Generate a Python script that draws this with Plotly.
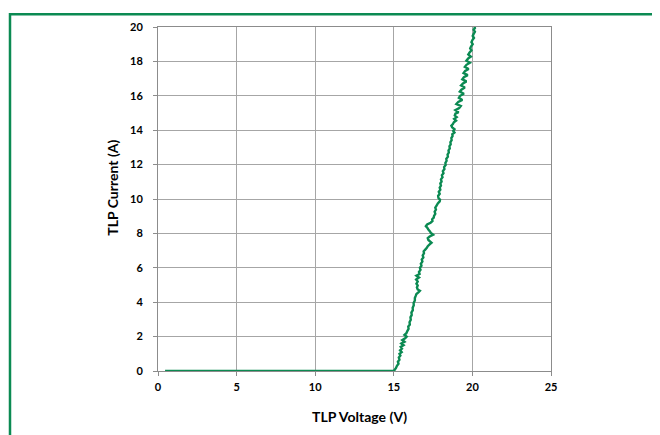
import plotly.graph_objects as go

# TLP I-V curve (voltage in V, current in A)
# off-state (flat) part
volt_off = [0.45, 5.00, 10.00, 14.90, 15.00]
curr_off = [0.00, 0.00, 0.00, 0.00, 0.02]

# 0 - 5 A
curr_a = [0.05, 0.18, 0.30, 0.42, 0.54, 0.66, 0.78, 0.90, 1.00, 1.10,
          1.20, 1.30, 1.40, 1.50, 1.60, 1.70, 1.80, 1.90, 2.00, 2.10,
          2.20, 2.32, 2.45, 2.58, 2.70, 2.84, 2.98, 3.12, 3.26, 3.40,
          3.54, 3.68, 3.82, 3.96, 4.10, 4.24, 4.38, 4.48, 4.58, 4.66,
          4.74, 4.85, 4.97]
volt_a = [15.04, 15.14, 15.20, 15.30, 15.26, 15.36, 15.32, 15.42, 15.36, 15.50,
          15.40, 15.52, 15.44, 15.62, 15.48, 15.68, 15.54, 15.72, 15.82, 15.68,
          15.80, 15.86, 15.94, 15.92, 16.02, 16.00, 16.08, 16.06, 16.14, 16.12,
          16.21, 16.20, 16.27, 16.26, 16.34, 16.34, 16.40, 16.44, 16.58, 16.66,
          16.52, 16.47, 16.52]

# 5 - 10 A
curr_b = [5.08, 5.20, 5.32, 5.44, 5.54, 5.64, 5.76, 5.88, 6.00, 6.12,
          6.24, 6.36, 6.48, 6.60, 6.72, 6.84, 6.96, 7.06, 7.16, 7.26,
          7.36, 7.46, 7.54, 7.62, 7.72, 7.82, 7.92, 8.02, 8.12, 8.22,
          8.32, 8.42, 8.52, 8.62, 8.72, 8.82, 8.92, 9.02, 9.14, 9.26,
          9.38, 9.50, 9.62, 9.74, 9.86, 9.96, 10.06]
volt_b = [16.44, 16.52, 16.42, 16.60, 16.44, 16.64, 16.60, 16.70, 16.66, 16.76,
          16.72, 16.82, 16.78, 16.88, 16.84, 16.92, 16.90, 17.00, 17.10, 17.16,
          17.28, 17.40, 17.30, 17.20, 17.16, 17.28, 17.50, 17.36, 17.30, 17.20,
          17.14, 17.04, 17.12, 17.34, 17.46, 17.44, 17.54, 17.56, 17.64, 17.60,
          17.68, 17.64, 17.72, 17.80, 17.92, 17.94, 17.84]

# 10 - 15 A
curr_c = [10.18, 10.30, 10.42, 10.54, 10.66, 10.78, 10.90, 11.02, 11.14, 11.26,
          11.38, 11.50, 11.62, 11.74, 11.86, 11.98, 12.10, 12.22, 12.34, 12.46,
          12.58, 12.70, 12.82, 12.94, 13.06, 13.18, 13.30, 13.42, 13.54, 13.66,
          13.76, 13.86, 13.96, 14.06, 14.16, 14.26, 14.36, 14.46, 14.56, 14.66,
          14.76, 14.86, 14.96]
volt_c = [17.82, 17.92, 17.86, 17.96, 17.92, 18.00, 17.96, 18.04, 18.00, 18.10,
          18.06, 18.16, 18.12, 18.22, 18.20, 18.30, 18.28, 18.36, 18.34, 18.44,
          18.42, 18.50, 18.48, 18.56, 18.54, 18.62, 18.60, 18.68, 18.66, 18.74,
          18.72, 18.86, 18.78, 18.86, 18.72, 18.66, 18.76, 18.82, 18.96, 18.84,
          19.00, 18.88, 18.92]

# 15 - 20 A
curr_d = [15.05, 15.17, 15.29, 15.41, 15.52, 15.64, 15.76, 15.88, 16.00, 16.12,
          16.24, 16.36, 16.48, 16.60, 16.72, 16.84, 16.96, 17.08, 17.20, 17.32,
          17.44, 17.56, 17.68, 17.80, 17.92, 18.04, 18.16, 18.28, 18.40, 18.52,
          18.64, 18.76, 18.88, 19.00, 19.12, 19.24, 19.36, 19.48, 19.60, 19.72,
          19.84, 19.94, 20.05]
volt_d = [19.12, 18.92, 19.16, 19.26, 18.98, 19.10, 19.36, 19.14, 19.22, 19.46,
          19.20, 19.30, 19.52, 19.28, 19.40, 19.62, 19.36, 19.46, 19.70, 19.44,
          19.54, 19.76, 19.52, 19.62, 19.84, 19.62, 19.72, 19.90, 19.74, 19.82,
          19.94, 19.86, 19.92, 20.02, 19.94, 20.00, 20.10, 20.02, 20.08, 20.16,
          20.08, 20.16, 20.12]

voltage = volt_off + volt_a + volt_b + volt_c + volt_d
current = curr_off + curr_a + curr_b + curr_c + curr_d

x_ticks = [0, 5, 10, 15, 20, 25]
y_ticks = [0, 2, 4, 6, 8, 10, 12, 14, 16, 18, 20]
x_title = "TLP Voltage (V)"
y_title = "TLP Current (A)"

GREEN = "#0b8a52"
FONT = "Lato"

fig = go.Figure()
fig.add_trace(go.Scatter(x=voltage, y=current, mode="lines",
                         line=dict(color=GREEN, width=2.4, simplify=False),
                         showlegend=False, hoverinfo="skip"))

axis_common = dict(showgrid=True, gridcolor="#a6a6a6", gridwidth=1,
                   showline=True, linecolor="#8c8c8c", linewidth=1, mirror=True,
                   ticks="outside", ticklen=4, tickcolor="#8c8c8c",
                   tickfont=dict(family=FONT, size=11, color="#000", weight="bold"),
                   zeroline=False)

title_font = dict(family=FONT, size=14, color="#000", weight="bold")

fig.update_layout(
    width=652, height=427,
    margin=dict(l=150, r=109, t=14, b=64),
    paper_bgcolor="white", plot_bgcolor="white",
    xaxis=dict(range=[0, 25], tickvals=x_ticks, ticktext=[str(v) for v in x_ticks],
               ticklabelstandoff=2, **axis_common),
    yaxis=dict(range=[0, 20], tickvals=y_ticks, ticktext=[str(v) for v in y_ticks],
               ticklabelstandoff=8, **axis_common),
    annotations=[
        dict(text=x_title, xref="paper", yref="paper", x=0.5115, y=-0.1318,
             xanchor="center", yanchor="middle", showarrow=False, font=title_font),
        dict(text=y_title, xref="paper", yref="paper", x=-0.1145, y=0.533,
             xanchor="center", yanchor="middle", showarrow=False, textangle=-90,
             font=title_font),
    ],
    shapes=[dict(type="rect", xref="paper", yref="paper",
                 x0=-0.3766, x1=1.2672, y0=-0.3, y1=1.0372,
                 line=dict(color=GREEN, width=2.5), layer="above")],
)

fig.write_html("out.html")
